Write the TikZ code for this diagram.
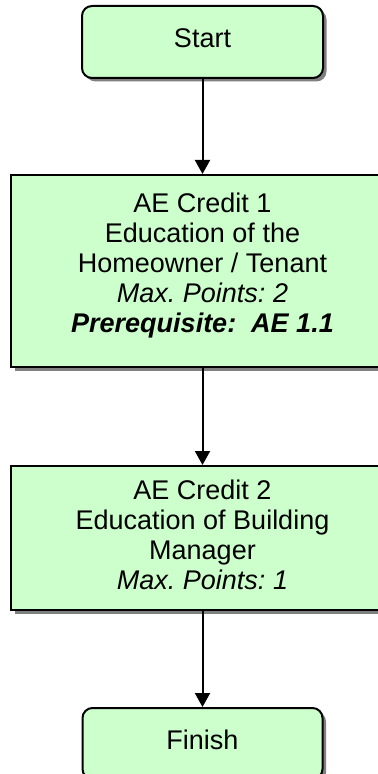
\documentclass[tikz,border=0pt]{standalone}
\usepackage{fontspec}
\setmainfont{Liberation Sans}
\usepackage{xcolor}
\usetikzlibrary{arrows.meta, positioning, shadows}
\definecolor{boxgreen}{HTML}{CCFFCC}
\frenchspacing

\begin{document}
\begin{tikzpicture}[
  box/.style={draw, line width=1pt, fill=boxgreen, minimum width=191.5pt, inner sep=0pt,
    align=center, font=\fontsize{13.5}{15}\selectfont,
    drop shadow={shadow xshift=1.75pt, shadow yshift=-1.75pt, fill=black!50, opacity=1}},
  term/.style={box, rounded corners=5pt, minimum width=120.5pt, minimum height=36pt, text depth=4pt},
  arrow/.style={-{Triangle[length=7pt, width=7.5pt]}, line width=1pt},
]
\useasboundingbox (0,0) rectangle (188.5pt,-387pt);

% --- Nodes, top to bottom
\node[term, anchor=north] (start) at (101.25pt,-2.5pt) {Start};
\node[box, minimum height=96pt, text depth=8pt, below=47.5pt of start] (credit1) {AE Credit 1\\
Education of the\\
Homeowner / Tenant\\
\textit{Max. Points: 2}\\
\textbf{\textit{Prerequisite:\ \ AE 1.1}}};
\node[box, minimum height=72pt, text depth=3pt, below=48.5pt of credit1] (credit2) {AE Credit 2\\
Education of Building\\
Manager\\
\textit{Max. Points: 1}};
\node[term, minimum width=120pt, minimum height=35.5pt, below=48pt of credit2] (finish) {Finish};

% --- Arrows
\draw[arrow] (start) -- (credit1);
\draw[arrow] (credit1) -- (credit2);
\draw[arrow] (credit2) -- (finish);

\end{tikzpicture}
\end{document}
